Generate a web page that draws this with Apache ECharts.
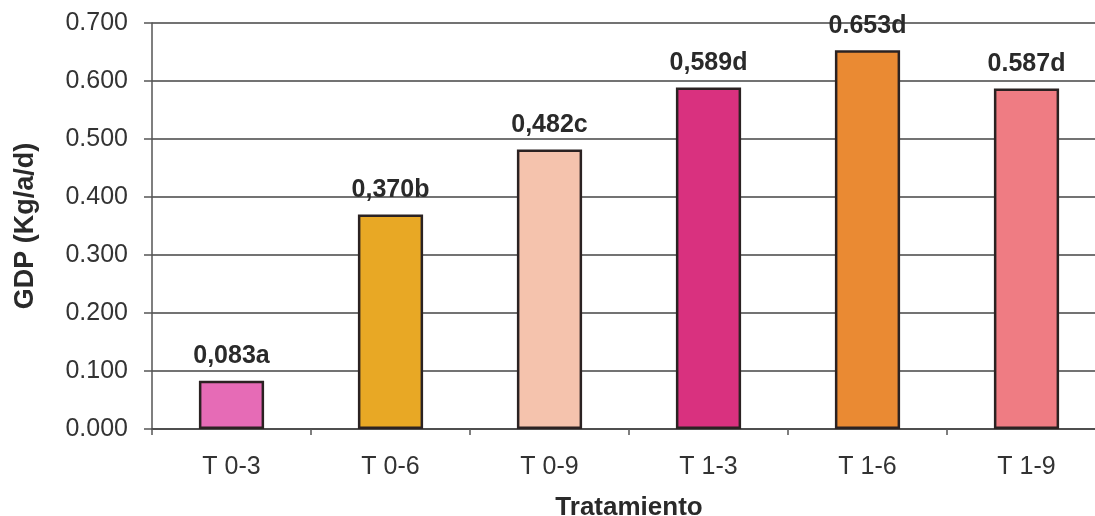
<!DOCTYPE html>
<html>
<head>
<meta charset="utf-8">
<script src="https://cdn.jsdelivr.net/npm/echarts@6/dist/echarts.min.js"></script>
<style>
  html, body { margin: 0; padding: 0; background: #ffffff; overflow: hidden; }
  #chart { width: 1095px; height: 516px; }
</style>
</head>
<body>
<div id="chart"></div>
<script>
// Treatments and mean daily weight gain (kg/animal/day)
const categories = ['T 0-3', 'T 0-6', 'T 0-9', 'T 1-3', 'T 1-6', 'T 1-9'];
const gdpValues = [0.083, 0.370, 0.482, 0.589, 0.653, 0.587];
const gdpLabels = ['0,083a', '0,370b', '0,482c', '0,589d', '0.653d', '0.587d'];
const barColors = ['#e66bb6', '#e8a825', '#f5c3ad', '#d9317f', '#ea8a33', '#ef7c83'];

const FONT = 'Liberation Sans, Arial, sans-serif';
const chart = echarts.init(document.getElementById('chart'), null, { renderer: 'canvas' });

chart.setOption({
  backgroundColor: '#ffffff',
  animation: false,
  grid: { left: 152, right: -11, top: 23, bottom: 87, containLabel: false, outerBoundsMode: 'none' },
  xAxis: {
    type: 'category',
    data: categories,
    name: 'Tratamiento',
    nameLocation: 'middle',
    nameGap: 66,
    nameTextStyle: { fontFamily: FONT, fontSize: 26, fontWeight: 'bold', color: '#2a2a2a' },
    axisLine: { show: true, lineStyle: { color: '#444', width: 1.5 } },
    axisTick: { show: true, alignWithLabel: false, length: 6, lineStyle: { color: '#555', width: 1.5 } },
    axisLabel: { fontFamily: FONT, fontSize: 25, color: '#333', margin: 26 }
  },
  yAxis: {
    type: 'value',
    min: 0,
    max: 0.7,
    interval: 0.1,
    name: 'GDP (Kg/a/d)',
    nameLocation: 'middle',
    nameGap: 113,
    nameRotate: 90,
    nameTextStyle: { fontFamily: FONT, fontSize: 27, fontWeight: 'bold', color: '#2a2a2a' },
    axisLine: { show: true, lineStyle: { color: '#555', width: 1.5 } },
    axisTick: { show: true, length: 8, lineStyle: { color: '#555', width: 1.5 } },
    axisLabel: {
      fontFamily: FONT, fontSize: 25, color: '#333', margin: 24,
      formatter: v => v.toFixed(3)
    },
    splitLine: { show: true, lineStyle: { color: '#444', width: 1.5 } }
  },
  series: [{
    type: 'bar',
    barWidth: '41%',
    data: gdpValues.map((v, i) => ({
      value: v,
      itemStyle: { color: barColors[i], borderColor: '#2b2222', borderWidth: 2.5 }
    })),
    label: {
      show: true,
      position: 'top',
      distance: 12,
      fontFamily: FONT,
      fontSize: 25,
      fontWeight: 'bold',
      color: '#2a2a2a',
      formatter: p => gdpLabels[p.dataIndex]
    }
  }]
});
</script>
</body>
</html>
